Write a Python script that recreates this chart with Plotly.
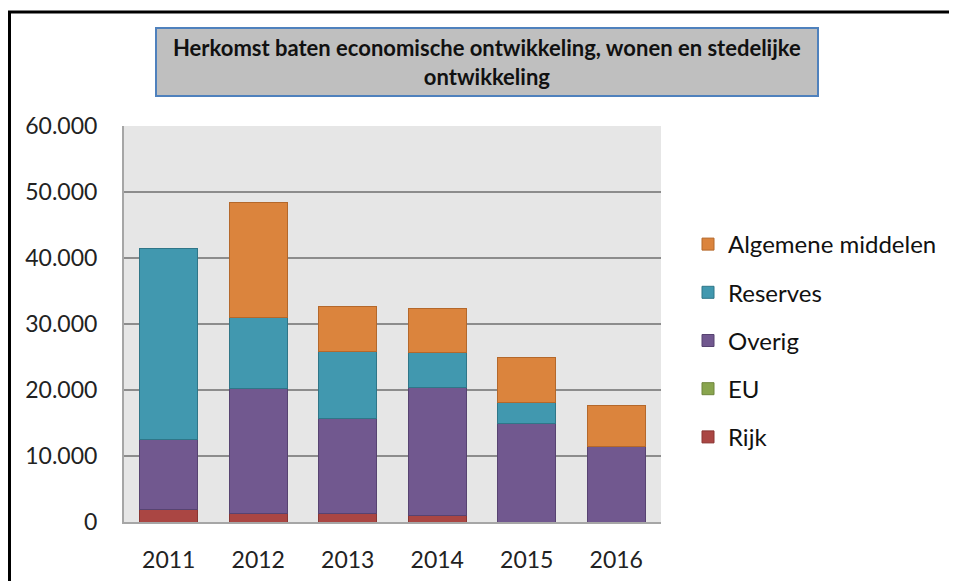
import plotly.graph_objects as go

years = ["2011", "2012", "2013", "2014", "2015", "2016"]
rijk = [1820, 1260, 1260, 1060, None, None]
eu = [None, None, None, None, None, None]
overig = [10710, 19040, 14390, 19390, 14850, 11410]
reserves = [28940, 10760, 10250, 5250, 3280, None]
algemene = [None, 17420, 6680, 6670, 6870, 6210]

series = [
    ("Rijk", rijk, "#AA4643", "#8A3532"),
    ("EU", eu, "#89A54E", "#6E853C"),
    ("Overig", overig, "#71588F", "#574371"),
    ("Reserves", reserves, "#4198AF", "#2F7688"),
    ("Algemene middelen", algemene, "#DB843D", "#B4682B"),
]

FONT = "Lato, Calibri, sans-serif"
OFF = 8  # page body margin

fig = go.Figure()
n = len(series)
for i, (name, vals, col, line) in enumerate(series):
    fig.add_trace(go.Bar(
        x=years, y=vals, name=name, legendgroup=f"g{i}", legendrank=n - i,
        marker=dict(color=col, line=dict(color=line, width=1)),
    ))

# page-pixel geometry of the plot area
L, R, T, B = 124, 661, 126, 522
W, H = 957 - OFF, 581 - OFF
pw, ph = R - L, B - T

def px(x):
    return (x - L) / pw

def py(y):
    return (B - y) / ph

fig.update_layout(
    width=W, height=H,
    margin=dict(l=L - OFF, r=W - (R - OFF), t=T - OFF, b=H - (B - OFF), pad=0),
    barmode="stack", bargap=0.35,
    paper_bgcolor="white", plot_bgcolor="#E6E6E6",
    separators=",.",
    font=dict(family=FONT, size=20, color="#222222"),
    showlegend=True,
    legend=dict(
        x=px(688), y=py(222), xanchor="left", yanchor="top",
        traceorder="grouped", tracegroupgap=14,
        font=dict(family=FONT, size=24, color="#111111"),
        itemwidth=30, bgcolor="rgba(0,0,0,0)",
    ),
    xaxis=dict(
        automargin=False,
        showgrid=False, showline=True, linecolor="#A6A6A6", linewidth=2,
        ticks="", tickfont=dict(family=FONT, size=23, color="#222222"),
        ticklabelstandoff=16,
    ),
    yaxis=dict(
        automargin=False,
        range=[0, 60000], tickvals=[0, 10000, 20000, 30000, 40000, 50000, 60000],
        tickformat=",.0f", showgrid=True, gridcolor="#8C8C8C", gridwidth=2,
        showline=True, linecolor="#A6A6A6", linewidth=2, zeroline=False,
        ticks="", tickfont=dict(family=FONT, size=23, color="#222222"),
        ticklabelstandoff=20,
    ),
    shapes=[
        dict(type="line", xref="paper", yref="paper",
             x0=px(OFF + 1.5), x1=px(OFF + 1.5), y0=py(620), y1=py(12),
             line=dict(color="black", width=3), layer="above"),
        dict(type="line", xref="paper", yref="paper",
             x0=px(OFF), x1=px(OFF + W + 20), y0=py(12), y1=py(12),
             line=dict(color="black", width=3), layer="above"),
        dict(type="rect", xref="paper", yref="paper",
             x0=px(156), x1=px(818), y0=py(96), y1=py(28),
             line=dict(color="#4F81BD", width=2), fillcolor="#BFBFBF", layer="above"),
    ],
    annotations=[
        dict(xref="paper", yref="paper", x=px(487), y=py(62),
             xanchor="center", yanchor="middle", showarrow=False,
             text="<b>Herkomst baten economische ontwikkeling, wonen en stedelijke<br>ontwikkeling</b>",
             font=dict(family=FONT, size=22, color="#111111")),
    ],
)

fig.write_html("out.html")
